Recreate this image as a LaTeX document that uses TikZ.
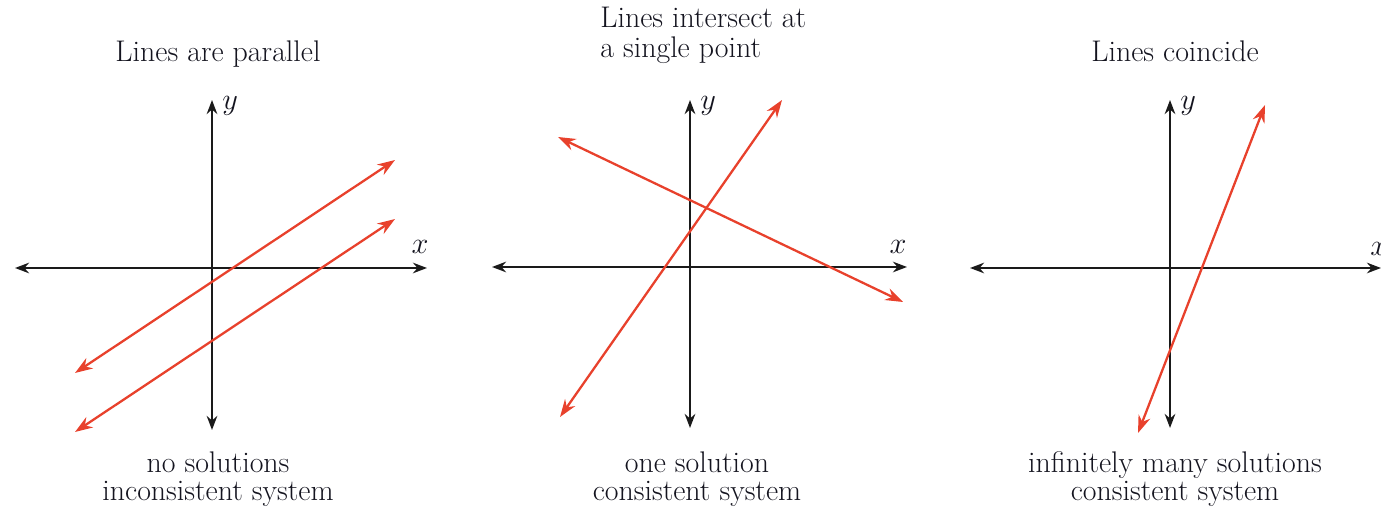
\documentclass[tikz,border=0pt]{standalone}
\usetikzlibrary{arrows.meta}
\definecolor{redline}{HTML}{E8412C}
\definecolor{axiscol}{HTML}{1A1A1A}
\definecolor{txtcol}{HTML}{14141F}
\tikzset{
  axis/.style={draw=axiscol, line width=1.3pt, {Stealth[length=8pt,width=6pt]}-{Stealth[length=8pt,width=6pt]}},
  redl/.style={draw=redline, line width=1.3pt, {Stealth[length=10pt,width=7pt]}-{Stealth[length=10pt,width=7pt]}},
  lbl/.style={text=txtcol, font=\fontsize{17}{20}\selectfont, inner sep=0pt},
  captext/.style={text=txtcol, font=\fontsize{17}{20}\selectfont, inner sep=0pt, align=center},
  axlbl/.style={text=txtcol, font=\fontsize{16}{18}\selectfont, inner sep=0pt}
}
\begin{document}
\begin{tikzpicture}[x=0.02cm,y=-0.02cm]
\useasboundingbox (0,0) rectangle (1381,509);
% ---------- panel 1 ----------
\coordinate (a1l) at (15,268); \coordinate (a1r) at (427,268);
\coordinate (a1t) at (212,100); \coordinate (a1b) at (212,430);
\draw[axis] (a1l) -- (a1r);
\draw[axis] (a1b) -- (a1t);
\node[axlbl, anchor=base] (x1) at (420,254) {$x$};
\node[axlbl, anchor=base west] (y1) at (222,110) {$y$};
\coordinate (p1a) at (75,373); \coordinate (p1b) at (395,160);
\coordinate (p2a) at (75,432); \coordinate (p2b) at (395,219);
\draw[redl] (p1a) -- (p1b);
\draw[redl] (p2a) -- (p2b);
\node[lbl, anchor=base] (t1) at (218,62) {Lines are parallel};
\node[captext, anchor=base] (b1) at (218,472) {no solutions};
\node[captext, anchor=base] (b1b) at (218,500) {inconsistent system};
% ---------- panel 2 ----------
\coordinate (a2l) at (492,267); \coordinate (a2r) at (907,267);
\coordinate (a2t) at (690,100); \coordinate (a2b) at (690,428);
\draw[axis] (a2l) -- (a2r);
\draw[axis] (a2b) -- (a2t);
\node[axlbl, anchor=base] (x2) at (898,254) {$x$};
\node[axlbl, anchor=base west] (y2) at (700,110) {$y$};
\coordinate (q1a) at (558,137); \coordinate (q1b) at (903,302);
\coordinate (q2a) at (560,417); \coordinate (q2b) at (782,100);
\draw[redl] (q1a) -- (q1b);
\draw[redl] (q2a) -- (q2b);
\node[lbl, anchor=base west] (t2) at (600,28) {Lines intersect at};
\node[lbl, anchor=base west] (t2b) at (600,58) {a single point};
\node[captext, anchor=base] (b2) at (697,472) {one solution};
\node[captext, anchor=base] (b2b) at (697,500) {consistent system};
% ---------- panel 3 ----------
\coordinate (a3l) at (970,268); \coordinate (a3r) at (1381,268);
\coordinate (a3t) at (1170,100); \coordinate (a3b) at (1170,428);
\draw[axis] (a3l) -- (a3r);
\draw[axis] (a3b) -- (a3t);
\node[axlbl, anchor=base west] (x3) at (1370,256) {$x$};
\node[axlbl, anchor=base west] (y3) at (1180,110) {$y$};
\coordinate (r1a) at (1138,433); \coordinate (r1b) at (1265,105);
\draw[redl] (r1a) -- (r1b);
\node[lbl, anchor=base] (t3) at (1175,62) {Lines coincide};
\node[captext, anchor=base] (b3) at (1175,472) {infinitely many solutions};
\node[captext, anchor=base] (b3b) at (1175,500) {consistent system};
\end{tikzpicture}
\end{document}
